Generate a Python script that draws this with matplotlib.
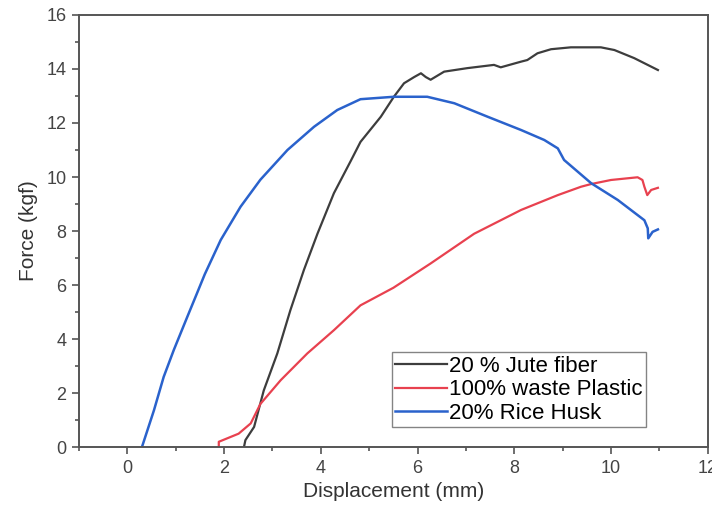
import matplotlib
matplotlib.use("Agg")
import matplotlib.pyplot as plt
from matplotlib.ticker import MultipleLocator

plt.rcParams['font.family'] = ['Liberation Sans', 'DejaVu Sans']

# 20 % Jute fiber
jute_x = [2.41, 2.44, 2.62, 2.82, 3.1, 3.37, 3.65, 3.93, 4.27, 4.62, 4.82, 5.24, 5.51,
          5.72, 5.93, 6.07, 6.17, 6.27, 6.55, 7.03, 7.58, 7.72, 8.14, 8.27, 8.48,
          8.76, 9.17, 9.79, 10.07, 10.48, 10.97]
jute_y = [0.0, 0.26, 0.75, 2.1, 3.47, 5.07, 6.56, 7.9, 9.4, 10.6, 11.3, 12.23, 12.97,
          13.47, 13.7, 13.84, 13.7, 13.6, 13.9, 14.03, 14.15, 14.06, 14.27, 14.33, 14.58,
          14.73, 14.8, 14.8, 14.7, 14.4, 13.96]

# 100% waste Plastic
plastic_x = [1.89, 1.89, 2.3, 2.55, 2.75, 3.17, 3.72, 4.27, 4.82, 5.5, 6.27, 7.17,
             8.14, 8.9, 9.38, 9.59, 10.0, 10.55, 10.65, 10.69, 10.75, 10.83, 10.97]
plastic_y = [0.0, 0.2, 0.5, 0.88, 1.6, 2.48, 3.47, 4.33, 5.25, 5.9, 6.8, 7.9,
             8.78, 9.33, 9.64, 9.74, 9.89, 9.99, 9.89, 9.64, 9.33, 9.52, 9.6]

# 20% Rice Husk
husk_x = [0.3, 0.55, 0.75, 0.96, 1.24, 1.44, 1.6, 1.93, 2.34, 2.75, 3.31, 3.86, 4.34,
          4.82, 5.51, 6.2, 6.76, 7.45, 8.14, 8.62, 8.9, 9.03, 9.31, 9.59, 10.14,
          10.69, 10.76, 10.77, 10.86, 10.97]
husk_y = [0.0, 1.37, 2.6, 3.6, 4.83, 5.7, 6.4, 7.67, 8.9, 9.9, 11.0, 11.86, 12.48,
          12.88, 12.97, 12.97, 12.73, 12.23, 11.74, 11.37, 11.06, 10.63, 10.2, 9.77, 9.15,
          8.4, 8.1, 7.73, 7.97, 8.06]

fig = plt.figure(figsize=(7.12, 5.14), dpi=100)
ax = fig.add_axes([0.111, 0.130, 0.883, 0.841])

ax.plot(jute_x, jute_y, color="#3d3d3d", lw=1.6, label="20 % Jute fiber")
ax.plot(plastic_x, plastic_y, color="#e8414f", lw=1.6, label="100% waste Plastic")
ax.plot(husk_x, husk_y, color="#2a62cc", lw=1.8, label="20% Rice Husk")

ax.set_xlim(-1, 12)
ax.set_ylim(0, 16)
ax.xaxis.set_major_locator(MultipleLocator(2))
ax.xaxis.set_minor_locator(MultipleLocator(1))
ax.yaxis.set_major_locator(MultipleLocator(2))
ax.yaxis.set_minor_locator(MultipleLocator(1))
ax.tick_params(which="both", direction="out", top=False, right=False,
               colors="#555555", labelcolor="#444444", labelsize=13, width=1.2)
ax.tick_params(which="major", length=5, pad=4)
ax.tick_params(which="minor", length=3)
for s in ax.spines.values():
    s.set_color("#555555")
    s.set_linewidth(1.4)

ax.set_xlabel("Displacement (mm)", fontsize=15, color="#333333", labelpad=4)
ax.set_ylabel("Force (kgf)", fontsize=15, color="#333333", labelpad=6)

leg = ax.legend(loc="lower left", bbox_to_anchor=(0.498, 0.046), fontsize=16,
                frameon=True, fancybox=False, borderpad=0.15, labelspacing=0.12,
                handlelength=2.3, handletextpad=0.1, borderaxespad=0)
leg.get_frame().set_edgecolor("#666666")
leg.get_frame().set_linewidth(1.0)

fig.savefig("out.png", dpi=100)
